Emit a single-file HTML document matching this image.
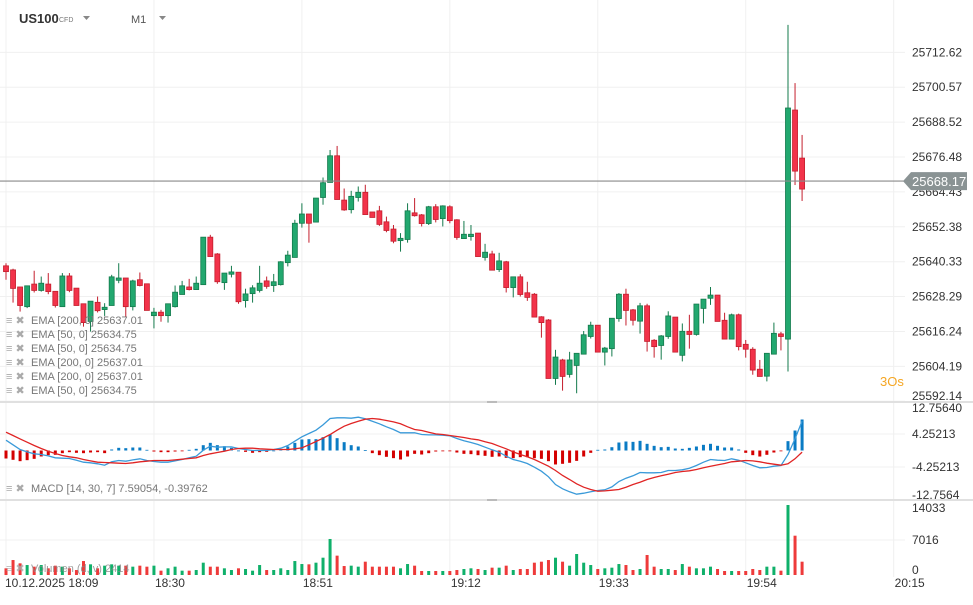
<!DOCTYPE html>
<html><head><meta charset="utf-8">
<style>
html,body{margin:0;padding:0;background:#fff;}
body{width:973px;height:600px;overflow:hidden;font-family:"Liberation Sans",sans-serif;}
svg text{font-family:"Liberation Sans",sans-serif;}
</style></head>
<body>
<svg id="chart" width="973" height="600" viewBox="0 0 973 600" xmlns="http://www.w3.org/2000/svg">
  <g id="grid"></g>
  <g id="candles"></g>
  <g id="macd"></g>
  <g id="volume"></g>
  <g id="axes"></g>
  <!-- header -->
  <text x="19" y="23" font-size="13" font-weight="bold" fill="#333">US100</text>
  <text x="59" y="22" font-size="7" fill="#777">CFD</text>
  <path d="M83 16 L90 16 L86.5 20 Z" fill="#888"/>
  <text x="131" y="23" font-size="11" fill="#555">M1</text>
  <path d="M159 16 L166 16 L162.5 20 Z" fill="#888"/>
  <text x="880" y="386" font-size="13" fill="#f5a623">3Os</text>
  <!-- separators -->
  <rect x="0" y="401" width="973" height="2" fill="#e0e0e0"/>
  <rect x="487" y="401" width="10" height="2" fill="#bbb"/>
  <rect x="0" y="499" width="973" height="2" fill="#e0e0e0"/>
  <rect x="487" y="499" width="10" height="2" fill="#bbb"/>
  <!-- legends -->
  <g font-size="11" fill="#777">
    <g><text x="6" y="324" fill="#aaa">≡ ✖</text><text x="31" y="324">EMA [200, 0] 25637.01</text></g>
    <g><text x="6" y="338" fill="#aaa">≡ ✖</text><text x="31" y="338">EMA [50, 0] 25634.75</text></g>
    <g><text x="6" y="352" fill="#aaa">≡ ✖</text><text x="31" y="352">EMA [50, 0] 25634.75</text></g>
    <g><text x="6" y="366" fill="#aaa">≡ ✖</text><text x="31" y="366">EMA [200, 0] 25637.01</text></g>
    <g><text x="6" y="380" fill="#aaa">≡ ✖</text><text x="31" y="380">EMA [200, 0] 25637.01</text></g>
    <g><text x="6" y="394" fill="#aaa">≡ ✖</text><text x="31" y="394">EMA [50, 0] 25634.75</text></g>
  </g>
  <g font-size="11" fill="#777">
    <text x="6" y="492" fill="#aaa">≡ ✖</text><text x="31" y="492">MACD [14, 30, 7] 7.59054, -0.39762</text>
  </g>
  <g font-size="11" fill="#888" opacity="0.8">
    <text x="6" y="572" fill="#aaa">≡ ✖</text><text x="31" y="572">Volumen (d, v) 2414</text>
  </g>
</svg>
<script>
const openP=[25638.9,25637.5,25631.6,25624.8,25632.6,25630.4,25632.6,25630.1,25624.8,25635.4,25631.2,25625.8,25619.7,25626.3,25623.8,25625.2,25633.9,25634.7,25624.8,25634.1,25632.7,25621.7,25622.9,25621.7,25624.8,25629.0,25631.6,25630.7,25632.4,25648.8,25643.0,25633.1,25636.0,25636.7,25626.9,25629.3,25630.4,25633.7,25632.1,25632.4,25640.0,25641.8,25653.6,25656.8,25654.0,25662.5,25667.7,25676.9,25661.6,25658.3,25662.5,25664.3,25657.5,25657.9,25654.1,25651.6,25647.6,25648.0,25657.2,25656.5,25653.5,25659.3,25655.2,25659.3,25654.8,25648.3,25649.0,25650.2,25641.8,25643.0,25637.6,25640.3,25631.4,25635.1,25629.6,25629.1,25621.3,25620.2,25600.0,25606.4,25601.4,25604.5,25608.4,25614.5,25618.4,25609.1,25610.3,25620.7,25629.1,25623.7,25619.8,25625.1,25613.2,25611.4,25614.5,25621.2,25608.0,25616.3,25615.2,25624.2,25627.7,25628.8,25620.1,25613.6,25622.0,25611.8,25610.1,25603.2,25600.8,25608.4,25615.4,25613.6,25692.7,25676.1];
const highP=[25639.8,25637.9,25631.6,25632.0,25637.2,25635.2,25636.4,25630.1,25636.4,25636.4,25631.2,25625.8,25626.7,25628.3,25626.0,25635.8,25639.8,25634.7,25634.1,25636.6,25632.7,25624.4,25623.7,25625.8,25632.1,25633.7,25634.4,25635.2,25648.8,25649.6,25643.3,25636.4,25638.9,25636.7,25631.0,25632.2,25638.9,25635.2,25636.1,25640.5,25644.1,25654.8,25660.5,25656.8,25662.3,25669.4,25678.9,25680.3,25665.6,25664.8,25666.3,25666.9,25657.5,25659.6,25655.9,25653.0,25650.2,25660.5,25662.3,25656.8,25659.6,25660.2,25659.8,25659.8,25655.0,25654.4,25653.0,25650.2,25646.5,25644.1,25643.4,25640.6,25635.1,25636.0,25633.4,25629.5,25621.5,25620.5,25609.9,25606.8,25609.2,25608.7,25616.4,25619.6,25618.4,25610.9,25620.8,25629.5,25631.0,25624.0,25626.1,25625.8,25613.6,25615.0,25623.2,25621.2,25619.0,25622.0,25625.7,25627.4,25631.6,25628.8,25622.7,25622.4,25622.4,25613.3,25610.8,25606.4,25608.7,25619.3,25616.1,25722.1,25702.0,25684.1];
const lowP=[25634.1,25626.2,25623.1,25624.3,25629.7,25630.0,25629.1,25624.5,25624.8,25629.8,25625.2,25617.9,25616.2,25622.8,25621.6,25625.2,25632.9,25621.2,25623.5,25631.8,25623.5,25617.3,25619.6,25619.3,25624.5,25629.0,25630.4,25630.7,25632.4,25642.1,25632.7,25630.6,25634.9,25625.8,25624.5,25626.2,25629.7,25631.0,25629.9,25632.1,25638.7,25641.8,25652.1,25646.9,25654.0,25660.0,25667.7,25661.8,25657.9,25657.0,25661.1,25656.6,25655.6,25652.7,25650.5,25646.7,25643.8,25646.9,25655.9,25652.5,25653.0,25653.9,25652.5,25653.6,25647.9,25648.3,25647.6,25642.1,25640.7,25637.4,25636.8,25629.7,25628.0,25628.3,25626.8,25621.2,25614.1,25600.0,25597.8,25595.8,25600.3,25594.9,25608.4,25613.8,25609.1,25604.5,25607.6,25619.6,25618.3,25618.3,25615.5,25609.3,25607.2,25606.5,25613.7,25609.1,25605.9,25610.3,25614.8,25619.0,25625.4,25619.7,25613.6,25613.5,25609.7,25607.2,25601.3,25600.7,25599.0,25608.4,25609.7,25602.4,25666.8,25661.3];
const closeP=[25636.9,25631.1,25625.2,25632.0,25630.4,25632.9,25630.0,25625.2,25635.4,25630.4,25625.2,25619.3,25626.7,25623.4,25624.6,25635.1,25634.7,25624.8,25633.7,25632.1,25623.5,25622.9,25621.7,25625.8,25629.8,25632.0,25630.7,25632.9,25648.8,25642.1,25633.4,25636.4,25636.8,25626.5,25629.2,25631.3,25632.9,25631.8,25633.4,25640.3,25642.6,25653.6,25656.8,25653.6,25662.3,25667.6,25676.9,25661.8,25658.2,25662.9,25664.3,25656.6,25655.6,25653.2,25651.1,25647.4,25648.4,25657.9,25656.2,25653.5,25659.3,25654.9,25659.6,25654.5,25648.7,25649.8,25649.8,25642.1,25643.6,25637.4,25640.6,25631.4,25635.1,25629.0,25628.0,25621.2,25619.3,25600.0,25607.4,25600.7,25606.4,25608.7,25615.1,25618.4,25609.1,25610.5,25620.8,25629.1,25623.5,25620.1,25625.1,25612.8,25611.0,25614.7,25621.6,25609.1,25616.3,25615.2,25625.7,25627.4,25628.8,25619.7,25613.6,25622.0,25611.0,25610.1,25602.9,25600.7,25608.7,25615.6,25614.5,25693.4,25671.6,25665.4];
const volumes=[1340,3000,2340,2000,1670,2000,1340,1870,1670,1340,1000,2800,2140,1340,1870,2140,1870,1870,1670,1870,1670,1870,870,1340,1670,870,870,1000,2470,1670,1670,1340,1000,1340,1200,870,2000,1000,1000,1340,1000,2800,2200,2140,2470,3470,7220,3880,1800,1870,1670,2670,1670,1670,1670,1670,1340,2200,1870,800,800,800,800,800,1000,1200,1340,1200,1000,1470,1470,1870,1000,1200,1200,2470,2670,3000,3470,2670,1870,4210,2470,2000,1200,1340,1470,2200,2000,1000,1200,4010,1670,1200,1200,1000,2200,1670,1340,1340,1670,1200,800,800,800,800,1200,1000,1670,1670,870,14033,7880,2670];
const macdLine=[2.66,1.46,0.25,-0.35,-0.86,-1.03,-1.38,-1.89,-1.98,-2.06,-2.49,-3.01,-3.18,-3.44,-3.78,-2.92,-2.58,-2.75,-2.41,-2.15,-2.58,-2.84,-3.01,-3.01,-2.67,-2.32,-1.89,-1.46,0.08,1.11,0.86,0.94,0.94,0.51,0.25,0.00,0.00,0.00,0.25,0.60,1.29,2.40,3.52,4.38,5.24,6.61,8.24,8.42,8.42,8.33,8.59,8.16,7.56,6.87,6.10,5.41,4.55,4.55,4.55,4.12,4.03,4.03,3.95,3.78,3.09,2.49,2.06,1.54,0.86,0.17,-0.43,-1.46,-2.32,-2.75,-3.35,-4.30,-5.33,-6.79,-8.76,-9.88,-10.65,-11.26,-11.00,-10.65,-10.31,-10.14,-9.37,-7.99,-7.13,-6.53,-5.67,-5.76,-5.76,-5.67,-5.16,-5.16,-4.98,-4.56,-3.87,-3.01,-2.32,-2.49,-2.58,-2.15,-2.49,-3.18,-3.87,-4.47,-4.38,-4.04,-3.87,-1.03,3.00,7.59];
const signalLine=[4.72,3.86,3.00,2.14,1.29,0.51,-0.17,-0.78,-1.29,-1.63,-1.89,-2.32,-2.67,-3.01,-3.10,-3.18,-3.27,-3.35,-3.18,-2.92,-2.75,-2.58,-2.58,-2.58,-2.41,-2.24,-2.06,-1.89,-1.29,-0.86,-0.52,-0.17,0.25,0.51,0.60,0.60,0.43,0.34,0.25,0.25,0.25,0.43,0.68,1.46,2.32,3.18,4.12,5.24,6.27,6.96,7.56,8.07,8.24,8.07,7.73,7.38,6.87,6.10,5.41,5.15,4.72,4.29,4.12,3.86,3.61,3.35,3.00,2.75,2.23,1.80,1.11,0.43,-0.35,-1.03,-1.63,-2.32,-3.18,-4.04,-5.16,-6.45,-7.48,-8.59,-9.45,-10.05,-10.48,-10.40,-10.22,-10.05,-9.45,-8.76,-8.16,-7.48,-6.96,-6.53,-6.10,-5.67,-5.41,-5.24,-4.90,-4.47,-4.04,-3.70,-3.35,-2.92,-2.75,-2.58,-2.67,-2.92,-3.27,-3.52,-3.78,-3.44,-2.15,-0.40];
const priceTicks=[25712.62,25700.57,25688.52,25676.48,25664.43,25652.38,25640.33,25628.29,25616.24,25604.19,25592.14];
const priceTickLabels=["25712.62","25700.57","25688.52","25676.48","25664.43","25652.38","25640.33","25628.29","25616.24","25604.19","25592.14"];
const macdTicks=[12.7564,4.25213,-4.25213,-12.7564];
const macdTickLabels=["12.75640","4.25213","-4.25213","-12.7564"];
const volTicks=[14033,7016,0];
const volTickLabels=["14033","7016","0"];
const timeTicks=[0,21,42,63,84,105,126];
const timeTickLabels=["10.12.2025  18:09","18:30","18:51","19:12","19:33","19:54","20:15"];
const lastPrice=25668.17;
const lastPriceLabel="25668.17";

const NS="http://www.w3.org/2000/svg";
const xAt=i=>6+i*7.045;
const yP=p=>157+(25676.48-p)*2.896;
const yM=v=>450.5-v*3.88;
const yV=v=>575-v*70/14033;
const PLOT_R=905;
function mk(tag,attrs,parent){const e=document.createElementNS(NS,tag);for(const k in attrs)e.setAttribute(k,attrs[k]);parent.appendChild(e);return e;}
const G=document.getElementById('grid'),C=document.getElementById('candles'),M=document.getElementById('macd'),V=document.getElementById('volume'),A=document.getElementById('axes');

// vertical grid + time labels
timeTicks.forEach((m,k)=>{
  const x=xAt(m);
  const l=mk('line',{x1:x,y1:0,x2:x,y2:577,stroke:'#f0f0f0','stroke-width':1},G);
  
  
  const t=mk('text',{x:k===0?5:x+1,y:587,'font-size':12,fill:'#333'},A);
  
  
  t.setAttribute('xml:space','preserve');
  t.textContent=timeTickLabels[k];
});
// price grid
priceTicks.forEach((p,k)=>{
  const y=yP(p);
  const l=mk('line',{x1:0,y1:y,x2:PLOT_R,y2:y,stroke:'#f0f0f0','stroke-width':1},G);
  
  
  const t=mk('text',{x:912,y:Math.min(y,396)+4,'font-size':12,fill:'#333'},A);
  
  
  t.textContent=priceTickLabels[k];
});
// macd grid
macdTicks.forEach((v,k)=>{
  const y=yM(v);
  if(y>405&&y<497){const l=mk('line',{x1:0,y1:y,x2:PLOT_R,y2:y,stroke:'#f0f0f0','stroke-width':1},G);
  
  }
  const t=mk('text',{x:912,y:Math.max(408,Math.min(y,495))+4,'font-size':12,fill:'#333'},A);
  
  
  t.textContent=macdTickLabels[k];
});
// volume grid
volTicks.forEach((v,k)=>{
  const y=yV(v);
  if(v>0&&v<14000){const l=mk('line',{x1:0,y1:y,x2:PLOT_R,y2:y,stroke:'#f0f0f0','stroke-width':1},G);
  
  }
  const t=mk('text',{x:912,y:Math.max(508,Math.min(y,570))+4,'font-size':12,fill:'#333'},A);
  
  
  t.textContent=volTickLabels[k];
});
// candles
openP.forEach((o,i)=>{
  const c=closeP[i],x=xAt(i),up=c>=o;
  const stroke=up?'#137a4c':'#c41e2d',fill=up?'#22a86f':'#f2334a';
  const w=mk('line',{x1:x,y1:yP(highP[i]),x2:x,y2:yP(lowP[i]),stroke:stroke,'stroke-width':1},C);
  
  
  const top=yP(Math.max(o,c)),bot=yP(Math.min(o,c));
  const r=mk('rect',{x:x-2.5,y:top,width:5,height:Math.max(1,bot-top),fill:fill,stroke:stroke,'stroke-width':0.8},C);
  
  
});
// current price line + tag
{
  const y=yP(lastPrice);
  const l=mk('line',{x1:0,y1:y,x2:PLOT_R,y2:y,stroke:'#8a8a8a','stroke-width':1.2},A);
  
  
  const tag=mk('path',{d:`M903 ${y} L911 ${y-9} L967 ${y-9} L967 ${y+9} L911 ${y+9} Z`,fill:'#8a9394'},A);
  
  
  const t=mk('text',{x:912,y:y+5,'font-size':13,fill:'#fff'},A);
  
  
  t.textContent=lastPriceLabel;
}
// macd histogram
macdLine.forEach((m,i)=>{
  const h=m-signalLine[i],x=xAt(i);
  const y0=yM(0),y1=Math.max(403,yM(h));
  const r=mk('rect',{x:x-1.5,y:Math.min(y0,y1),width:3,height:Math.max(0.8,Math.abs(y1-y0)),fill:h>=0?'#0a7bc4':'#d40000'},M);
  
  
});
function line(arr,color,name){
  const d=arr.map((v,i)=>(i?'L':'M')+xAt(i).toFixed(1)+' '+Math.max(403,yM(v)).toFixed(1)).join(' ');
  const p=mk('path',{d:d,fill:'none',stroke:color,'stroke-width':1.3},M);
  
  
}
line(macdLine,'#3a9ad9','macd-line');
line(signalLine,'#e02424','signal-line');
// volume
volumes.forEach((v,i)=>{
  const x=xAt(i),up=closeP[i]>=openP[i];
  const r=mk('rect',{x:x-1.5,y:yV(v),width:3,height:575-yV(v),fill:up?'#0fb06a':'#ee3a3a'},V);
  
  
});
</script>
</body></html>
